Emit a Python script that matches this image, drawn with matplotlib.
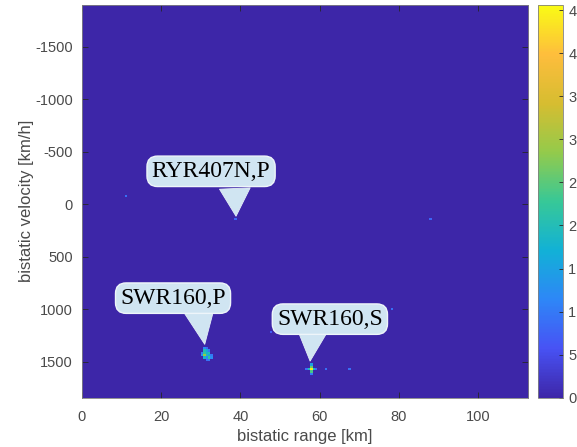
import numpy as np
import matplotlib
matplotlib.use('Agg')
import matplotlib.pyplot as plt
from matplotlib.colors import LinearSegmentedColormap

# ---- data ----
range_limits = [0.0, 112.6]        # km
vel_limits = [-1900.0, 1845.0]     # km/h
range_step = 0.6
vel_step = 22.0

# detections: bistatic range [km], bistatic velocity [km/h], amplitude
det_range = [11.1, 38.9, 87.6, 78.3, 47.5, 61.6, 67.7,
             30.6, 31.2,
             30.6, 31.2, 31.8,
             30.0, 30.6, 31.2, 31.8,
             30.0, 30.6, 31.2, 31.8, 32.4,
             30.6, 31.2, 31.8, 32.4,
             31.2, 31.8,
             57.8, 57.8, 57.8, 57.8, 57.8, 57.2, 58.4, 56.6, 59.0]
det_vel = [-90, 130, 130, 985, 1205, 1557, 1557,
           1360, 1360,
           1382, 1382, 1382,
           1404, 1404, 1404, 1404,
           1426, 1426, 1426, 1426, 1426,
           1448, 1448, 1448, 1448,
           1470, 1470,
           1555, 1511, 1533, 1577, 1599, 1555, 1555, 1555, 1555]
det_val = [0.9, 0.8, 0.8, 0.9, 0.7, 0.9, 0.9,
           1.2, 0.8,
           2.0, 1.6, 1.0,
           1.0, 2.2, 1.8, 2.0,
           1.4, 2.9, 2.0, 1.6, 1.0,
           1.8, 1.2, 2.2, 1.2,
           0.9, 1.0,
           4.4, 1.5, 2.6, 2.4, 1.0, 2.0, 1.8, 0.9, 0.8]

labels = ['RYR407N,P', 'SWR160,P', 'SWR160,S']
label_text_pos = [(32.6, -314), (23.0, 895), (62.6, 1095)]
pointer_base = [(38.6, -150), (29.6, 1010), (58.2, 1200)]
label_target = [(38.9, 114), (31.0, 1335), (57.6, 1495)]

cbar_ticks = [0, 0.5, 1, 1.5, 2, 2.5, 3, 3.5, 4, 4.5]
cbar_ticklabels = ['0', '5', '1', '1', '2', '2', '3', '3', '4', '4']
cbar_max = 4.56

# ---- colormap (parula-like) ----
parula_pts = [
    (0.000, (0.2422, 0.1504, 0.6603)),
    (0.125, (0.2810, 0.3228, 0.9579)),
    (0.250, (0.1786, 0.5289, 0.9682)),
    (0.375, (0.0689, 0.6948, 0.8394)),
    (0.500, (0.2161, 0.7843, 0.5923)),
    (0.625, (0.5783, 0.7942, 0.2946)),
    (0.750, (0.8400, 0.7400, 0.1900)),
    (0.875, (0.9956, 0.7434, 0.2371)),
    (1.000, (0.9769, 0.9839, 0.0805)),
]
parula = LinearSegmentedColormap.from_list('parula', parula_pts)

# ---- grid ----
nx = int(round((range_limits[1] - range_limits[0]) / range_step))
ny = int(round((vel_limits[1] - vel_limits[0]) / vel_step))
grid = np.zeros((ny, nx))
for r, v, a in zip(det_range, det_vel, det_val):
    j = int((r - range_limits[0]) / range_step)
    i = int((v - vel_limits[0]) / vel_step)
    grid[i, j] = max(grid[i, j], a)

plt.rcParams['font.family'] = ['Liberation Sans', 'DejaVu Sans']
plt.rcParams['axes.unicode_minus'] = False
txt_color = '#4a4a4a'
ax_color = '#262626'

fig = plt.figure(figsize=(5.77, 4.47), dpi=100)
ax = fig.add_axes([0.142, 0.110, 0.773, 0.879])
im = ax.imshow(grid, cmap=parula, vmin=0, vmax=cbar_max, aspect='auto',
               interpolation='nearest', origin='upper',
               extent=[range_limits[0], range_limits[1], vel_limits[1], vel_limits[0]])
ax.set_xlim(range_limits)
ax.set_ylim(vel_limits[1], vel_limits[0])
ax.set_xticks(np.arange(0, 101, 20))
ax.set_yticks(np.arange(-1500, 1501, 500))
ax.tick_params(direction='in', top=True, right=True, length=4, width=0.6,
               color=ax_color, labelcolor=txt_color, labelsize=10.5)
ax.tick_params(axis='x', pad=8.5)
ax.tick_params(axis='y', pad=6.5)
for s in ax.spines.values():
    s.set_color('#808080')
    s.set_linewidth(0.6)
ax.set_xlabel('bistatic range [km]', fontsize=12, color=txt_color, labelpad=4)
ax.set_ylabel('bistatic velocity [km/h]', fontsize=12, color=txt_color, labelpad=1)

box_fc = '#d0e5f2'
for (bx, by), (px, py) in zip(pointer_base, label_target):
    ax.annotate('', xy=(px, py), xytext=(bx, by), textcoords='data',
                arrowprops=dict(arrowstyle='wedge,tail_width=1.3,shrink_factor=0.5',
                                mutation_scale=17, fc=box_fc, ec='#e6f0f7', lw=0.6,
                                shrinkA=0, shrinkB=0),
                zorder=5)
for lab, (tx, ty) in zip(labels, label_text_pos):
    ax.text(tx, ty, lab, ha='center', va='center', fontsize=17,
            family='Liberation Serif', color='black', zorder=6,
            bbox=dict(boxstyle='round,pad=0.2,rounding_size=0.45', fc=box_fc,
                      ec='#eef5fa', lw=1.0))

cax = fig.add_axes([0.932, 0.110, 0.043, 0.879])
cb = fig.colorbar(im, cax=cax, ticks=cbar_ticks)
cb.set_ticklabels(cbar_ticklabels)
cb.outline.set_edgecolor('#808080')
cb.outline.set_linewidth(0.6)
cax.tick_params(direction='in', length=3, width=0.6, color=ax_color,
                labelcolor=txt_color, labelsize=10.5, pad=4)

fig.savefig('out.png', dpi=100)
